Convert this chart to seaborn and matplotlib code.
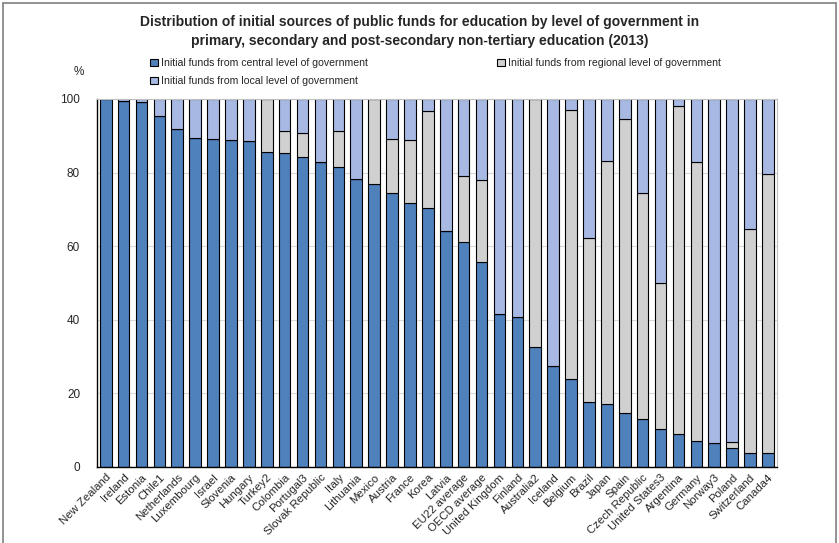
import pandas as pd
import matplotlib.pyplot as plt
import seaborn as sns
from matplotlib.lines import Line2D

countries = ["New Zealand", "Ireland", "Estonia", "Chile1", "Netherlands", "Luxembourg",
             "Israel", "Slovenia", "Hungary", "Turkey2", "Colombia", "Portugal3",
             "Slovak Republic", "Italy", "Lithuania", "Mexico", "Austria", "France",
             "Korea", "Latvia", "EU22 average", "OECD average", "United Kingdom",
             "Finland", "Australia2", "Iceland", "Belgium", "Brazil", "Japan", "Spain",
             "Czech Republic", "United States3", "Argentina", "Germany", "Norway3",
             "Poland", "Switzerland", "Canada4"]

central = [100, 99.4, 99.1, 95.3, 91.8, 89.3, 89.2, 88.8, 88.5, 85.5, 85.4, 84.3,
           82.8, 81.6, 78.3, 77.0, 74.3, 71.7, 70.4, 64.1, 61.0, 55.6, 41.4,
           40.8, 32.6, 27.5, 23.9, 17.5, 17.0, 14.5, 12.9, 10.2, 8.8, 7.0, 6.4,
           5.0, 3.6, 3.6]

regional = [0, 0, 0, 0, 0, 0, 0, 0, 0, 14.5, 5.8, 6.4,
            0, 9.6, 0, 23.0, 14.7, 17.1, 26.3, 0, 18.0, 22.3, 0,
            0, 67.4, 0, 73.1, 44.6, 66.1, 80.1, 61.4, 39.8, 89.4, 75.8, 0,
            1.7, 61.0, 75.9]

local = [round(100 - c - r, 1) for c, r in zip(central, regional)]

df = pd.DataFrame({"country": countries, "central": central,
                   "regional": regional, "local": local})
df["base_local"] = df["central"] + df["regional"]

sns.set_style("white")
plt.rcParams["font.family"] = ["Liberation Sans", "DejaVu Sans"]

c_central = "#4F81BD"
c_regional = "#D0D0D0"
c_local = "#A7B9E3"

fig = plt.figure(figsize=(8.39, 5.43), dpi=100)
ax = fig.add_axes([0.1153, 0.1405, 0.8107, 0.6772])

kw = dict(width=0.65, edgecolor="black", linewidth=0.8, ax=ax, order=countries)
sns.barplot(data=df, x="country", y="central", color=c_central, saturation=1,
            label="Initial funds from central level of government", **kw)
sns.barplot(data=df, x="country", y="regional", bottom=df["central"], color=c_regional,
            saturation=1, label="Initial funds from regional level of government", **kw)
sns.barplot(data=df, x="country", y="local", bottom=df["base_local"], color=c_local,
            saturation=1, label="Initial funds from local level of government", **kw)
if ax.get_legend() is not None:
    ax.get_legend().remove()

ax.set_xlim(-0.5, len(countries) - 0.5)
ax.set_ylim(0, 100)
ax.set_yticks([0, 20, 40, 60, 80, 100])
ax.yaxis.grid(True, color="#D9D9D9", linewidth=0.8)
ax.set_axisbelow(True)
ax.set_xlabel("")
ax.set_ylabel("")
ax.tick_params(axis="y", length=0, labelsize=8.5, pad=12)
ax.set_xticks(range(len(countries)))
ax.set_xticklabels(countries, rotation=45, ha="right", rotation_mode="anchor", fontsize=8.2)
ax.tick_params(axis="x", which="major", length=0, pad=4)
ax.set_xticks([i + 0.5 for i in range(len(countries) - 1)], minor=True)
ax.tick_params(axis="x", which="minor", length=3, width=0.8, color="black", direction="out")

for side in ["left", "bottom"]:
    ax.spines[side].set_color("black")
    ax.spines[side].set_linewidth(1.0)
for side in ["top", "right"]:
    ax.spines[side].set_color("#BFBFBF")
    ax.spines[side].set_linewidth(0.8)

ax.text(-0.019, 1.073, "%", transform=ax.transAxes, fontsize=8.5, ha="right", va="center")

handles, labels = ax.get_legend_handles_labels()
order = [0, 2, 1]
fig.legend([handles[i] for i in order], [labels[i] for i in order], ncol=2,
           loc="upper left", bbox_to_anchor=(0.179, 0.893), frameon=False,
           fontsize=7.6, handlelength=0.7, handleheight=0.7, handletextpad=0.3,
           columnspacing=12.3, labelspacing=0.75, borderpad=0, borderaxespad=0)

fig.text(0.5, 0.973, "Distribution of initial sources of public funds for education by level of government in\n"
         "primary, secondary and post-secondary non-tertiary education (2013)",
         ha="center", va="top", fontsize=10, fontweight="bold", linespacing=1.5)

# outer frame of the picture
for xs, ys in [([0.004, 0.004], [0.0, 0.995]), ([0.004, 0.997], [0.995, 0.995]),
               ([0.997, 0.997], [0.0, 0.995])]:
    fig.add_artist(Line2D(xs, ys, color="#808080", linewidth=1.2, transform=fig.transFigure))

fig.savefig("out.png", dpi=100)
